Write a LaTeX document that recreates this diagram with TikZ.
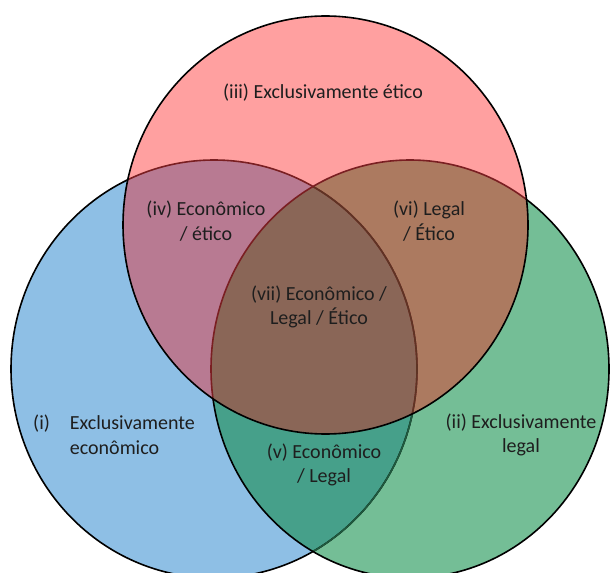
\documentclass[tikz,border=0pt]{standalone}
\usepackage{fontspec}
\setmainfont{Carlito}
\begin{document}
\definecolor{bluefill}{HTML}{8EBFE5}
\definecolor{greenfill}{HTML}{74BE96}
\definecolor{redfill}{HTML}{FFA0A0}
\definecolor{bgfill}{HTML}{46A08A}
\definecolor{rbfill}{HTML}{B87A92}
\definecolor{rgfill}{HTML}{AC7A60}
\definecolor{allfill}{HTML}{8A6657}
\definecolor{lineunderred}{HTML}{7A1F22}
\definecolor{lineunderboth}{HTML}{5E3424}
\definecolor{lineundergreen}{HTML}{1F5A3E}
\definecolor{labeltext}{HTML}{1E1E1E}
\begin{tikzpicture}[x=1pt,y=-1pt,
  edge/.style={line width=1.6pt},
  lbl/.style={inner sep=0pt, text=labeltext, align=center,
    font=\fontsize{20}{24.5}\selectfont},
  redset/.style={x radius=202.5pt, y radius=209pt},
  blueset/.style={x radius=203pt, y radius=209pt},
  greenset/.style={x radius=199pt, y radius=209pt}]
\useasboundingbox (0,0) rectangle (612,572);
\clip (0,0) rectangle (612,572);
\fill[white] (0,0) rectangle (612,572);

% centres of the three sets
\coordinate (R) at (325.5,225);
\coordinate (B) at (214,369);
\coordinate (G) at (410,369);

% fills of the single sets and their overlaps
\fill[bluefill] (B) ellipse[blueset];
\fill[greenfill] (G) ellipse[greenset];
\begin{scope}
  \clip (B) ellipse[blueset];
  \fill[bgfill] (G) ellipse[greenset];
\end{scope}
\draw[edge] (B) ellipse[blueset];
\begin{scope}
  \clip (G) ellipse[greenset];
  \draw[edge, lineundergreen] (B) ellipse[blueset];
\end{scope}
\draw[edge] (G) ellipse[greenset];

\fill[redfill] (R) ellipse[redset];
\begin{scope}
  \clip (R) ellipse[redset];
  \fill[rbfill] (B) ellipse[blueset];
  \fill[rgfill] (G) ellipse[greenset];
  \begin{scope}
    \clip (B) ellipse[blueset];
    \fill[allfill] (G) ellipse[greenset];
  \end{scope}
  \draw[edge, lineunderred] (B) ellipse[blueset];
  \begin{scope}
    \clip (G) ellipse[greenset];
    \draw[edge, lineunderboth] (B) ellipse[blueset];
  \end{scope}
  \draw[edge, lineunderred] (G) ellipse[greenset];
\end{scope}
\draw[edge] (R) ellipse[redset];

% region labels
\node[lbl] (t3) at (323,93) {(iii) Exclusivamente ético};
\node[lbl] (t4) at (206,221) {(iv) Econômico\\/ ético};
\node[lbl] (t6) at (429,221) {(vi) Legal\\/ Ético};
\node[lbl] (t7) at (319,307) {(vii) Econômico /\\Legal / Ético};
\node[lbl] (t5) at (324,465) {(v) Econômico\\/ Legal};
\node[lbl] (t2) at (521,435) {(ii) Exclusivamente\\legal};
\node[lbl, anchor=west, align=left] (t1) at (33,437)
  {\begin{tabular}{@{}l@{\hspace{20pt}}l@{}}(i)&Exclusivamente\\&econômico\end{tabular}};
\end{tikzpicture}
\end{document}
